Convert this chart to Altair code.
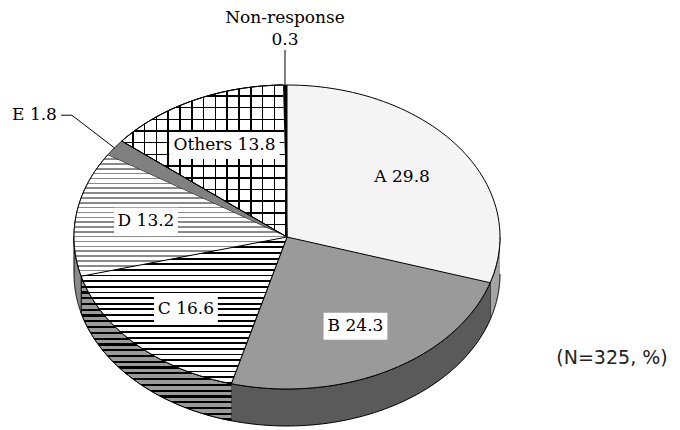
import altair as alt
import pandas as pd

# ---- data ----
categories = ["A", "B", "C", "D", "E", "Others", "Non-response"]
values = [29.8, 24.3, 16.6, 13.2, 1.8, 13.8, 0.3]
labels = ["A 29.8", "B 24.3", "C 16.6", "D 13.2", "E 1.8", "Others 13.8", "Non-response\n0.3"]
note = "(N=325, %)"

# ---- styles ----
top_colors = ["#f4f4f4", "#9a9a9a", "#d0d0d0", "#d4d4d4", "#808080", "#d6d6d6", "#000000"]
side_colors = ["#a4a4a4", "#5a5a5a", "#7a7a7a", "#8a8a8a", "#555555", "#8f8f8f", "#000000"]

df = pd.DataFrame({"cat": categories, "value": values, "label": labels,
                   "idx": list(range(len(categories)))})

X_SCALE = alt.Scale(domain=[-1.3099, 1.8075], nice=False, zero=False)
Y_SCALE = alt.Scale(domain=[-1.2566, 1.5066], nice=False, zero=False)
DEPTH = 0.2434
STEPS = 60
FONT = "DejaVu Serif"


def pos(fx, fy):
    return dict(x=alt.X(f"{fx}:Q", scale=X_SCALE, axis=None),
                y=alt.Y(f"{fy}:Q", scale=Y_SCALE, axis=None))


def stripes(n, fg, bg, frac, direction):
    """Hard-edged linear gradient that draws n stripes across the item's box."""
    stops = []
    for i in range(n):
        s = i / n
        m = (i + 1 - frac) / n
        e = (i + 1) / n
        stops += [alt.GradientStop(offset=round(s, 5), color=bg),
                  alt.GradientStop(offset=round(m, 5), color=bg),
                  alt.GradientStop(offset=round(m, 5), color=fg),
                  alt.GradientStop(offset=round(min(e, 1.0), 5), color=fg)]
    if direction == "y":
        return alt.Gradient(gradient="linear", x1=0, y1=0, x2=0, y2=1, stops=stops)
    return alt.Gradient(gradient="linear", x1=0, y1=0, x2=1, y2=0, stops=stops)


base = (
    alt.Chart(df)
    .transform_joinaggregate(total="sum(value)")
    .transform_window(cum="sum(value)", sort=[alt.SortField("idx", order="ascending")],
                      frame=[None, 0])
    .transform_calculate(a1="2*PI*datum.cum/datum.total",
                         a0="2*PI*(datum.cum-datum.value)/datum.total")
    .transform_calculate(mid="(datum.a0+datum.a1)/2")
)

# side (front rim) geometry of the 3-D pie
side_geo = (
    base.transform_calculate(s0="max(datum.a0, PI/2)", s1="min(datum.a1, 3*PI/2)")
    .transform_filter("datum.s1 > datum.s0")
    .transform_calculate(k=f"sequence(0, {2 * STEPS + 2})")
    .transform_flatten(["k"])
    .transform_calculate(t=f"datum.k <= {STEPS} ? datum.k/{STEPS} : ({2 * STEPS + 1}-datum.k)/{STEPS}")
    .transform_calculate(ang="datum.s0 + (datum.s1-datum.s0)*datum.t")
    .transform_calculate(x="sin(datum.ang)",
                         y=f"cos(datum.ang) - (datum.k <= {STEPS} ? 0 : {DEPTH})")
)
# top face geometry
top_geo = (
    base.transform_calculate(k=f"sequence(0, {STEPS + 2})")
    .transform_flatten(["k"])
    .transform_calculate(ang=f"datum.a0 + (datum.a1-datum.a0)*(datum.k-1)/{STEPS}")
    .transform_calculate(x="datum.k == 0 ? 0 : sin(datum.ang)",
                         y="datum.k == 0 ? 0 : cos(datum.ang)")
)

side = side_geo.mark_line(stroke="black", strokeWidth=1, strokeJoin="round").encode(
    **pos("x", "y"), order="k:Q", detail="cat:N",
    fill=alt.Fill("cat:N", scale=alt.Scale(domain=categories, range=side_colors), legend=None))

top = top_geo.mark_line(stroke="black", strokeWidth=1, strokeJoin="round").encode(
    **pos("x", "y"), order="k:Q", detail="cat:N",
    fill=alt.Fill("cat:N", scale=alt.Scale(domain=categories, range=top_colors), legend=None))


def overlay(geo, cat, grad, stroke="black"):
    return geo.transform_filter(f"datum.cat == '{cat}'").mark_line(
        fill=grad, stroke=stroke, strokeWidth=1, strokeJoin="round").encode(
        **pos("x", "y"), order="k:Q", detail="cat:N")


side_c = overlay(side_geo, "C", stripes(25, "#000000", "#9a9a9a", 0.4, "y"))
top_c = overlay(top_geo, "C", stripes(26, "#000000", "#ffffff", 0.33, "y"))
top_d = overlay(top_geo, "D", stripes(25, "#8a8a8a", "#ffffff", 0.32, "y"))
top_o1 = overlay(top_geo, "Others", stripes(14, "#000000", "#ffffff", 0.13, "x"))
top_o2 = overlay(top_geo, "Others", stripes(13, "#000000", "rgba(255,255,255,0)", 0.13, "y"))

# inner labels
inner = (
    base.transform_filter("datum.cat != 'E' && datum.cat != 'Non-response'")
    .transform_calculate(lx="0.67*sin(datum.mid)", ly="0.67*cos(datum.mid)")
)
boxes = (
    inner.transform_filter("datum.cat != 'A'")
    .transform_calculate(bx0="datum.lx - (length(datum.label)*9.3+8)/2/213",
                         bx1="datum.lx + (length(datum.label)*9.3+8)/2/213",
                         by0="datum.ly - 13.5/152", by1="datum.ly + 13.5/152")
    .mark_rect(fill="white")
    .encode(**pos("bx0", "by0"), x2="bx1:Q", y2="by1:Q")
)
inner_text = inner.mark_text(font=FONT, fontSize=17, color="black").encode(
    **pos("lx", "ly"), text="label:N")

# outside labels with leader lines
outer = (
    base.transform_filter("datum.cat == 'E' || datum.cat == 'Non-response'")
    .transform_calculate(ex="sin(datum.mid)", ey="cos(datum.mid)")
    .transform_calculate(bx="datum.cat == 'E' ? datum.ex - 0.2 : datum.ex",
                         by="datum.cat == 'E' ? datum.ey + 0.215 : datum.ey + 0.23")
    .transform_calculate(cx="datum.cat == 'E' ? datum.bx - 0.05 : datum.bx", cy="datum.by")
)
leaders = (
    outer.transform_calculate(k="sequence(0, 3)")
    .transform_flatten(["k"])
    .transform_calculate(px="datum.k == 0 ? datum.ex : (datum.k == 1 ? datum.bx : datum.cx)",
                         py="datum.k == 0 ? datum.ey : (datum.k == 1 ? datum.by : datum.cy)")
    .mark_line(stroke="black", strokeWidth=1)
    .encode(**pos("px", "py"), order="k:Q", detail="cat:N")
)
e_text = (
    outer.transform_filter("datum.cat == 'E'")
    .transform_calculate(tx="datum.cx - 0.02")
    .mark_text(font=FONT, fontSize=17, color="black", align="right", baseline="middle")
    .encode(**pos("tx", "cy"), text="label:N")
)
nr_text = (
    outer.transform_filter("datum.cat == 'Non-response'")
    .transform_calculate(lines="split(datum.label, '\\n')")
    .mark_text(font=FONT, fontSize=17, color="black", align="center", baseline="bottom",
               lineHeight=22, dy=-23)
    .encode(**pos("cx", "cy"), text="lines:N")
)

note_text = (
    alt.Chart(pd.DataFrame({"t": [note]}))
    .mark_text(font="DejaVu Sans", fontSize=19, color="#222222", align="center",
               baseline="middle")
    .encode(text="t:N", x=alt.value(604), y=alt.value(350))
)

chart = (
    alt.layer(side, side_c, top, top_c, top_d, top_o1, top_o2, boxes, inner_text,
              leaders, e_text, nr_text, note_text)
    .resolve_scale(fill="independent")
    .properties(width=664, height=420, autosize="none", padding=0)
    .configure_view(stroke=None)
)

chart.save("out.html", embed_options={"renderer": "svg", "actions": False})
